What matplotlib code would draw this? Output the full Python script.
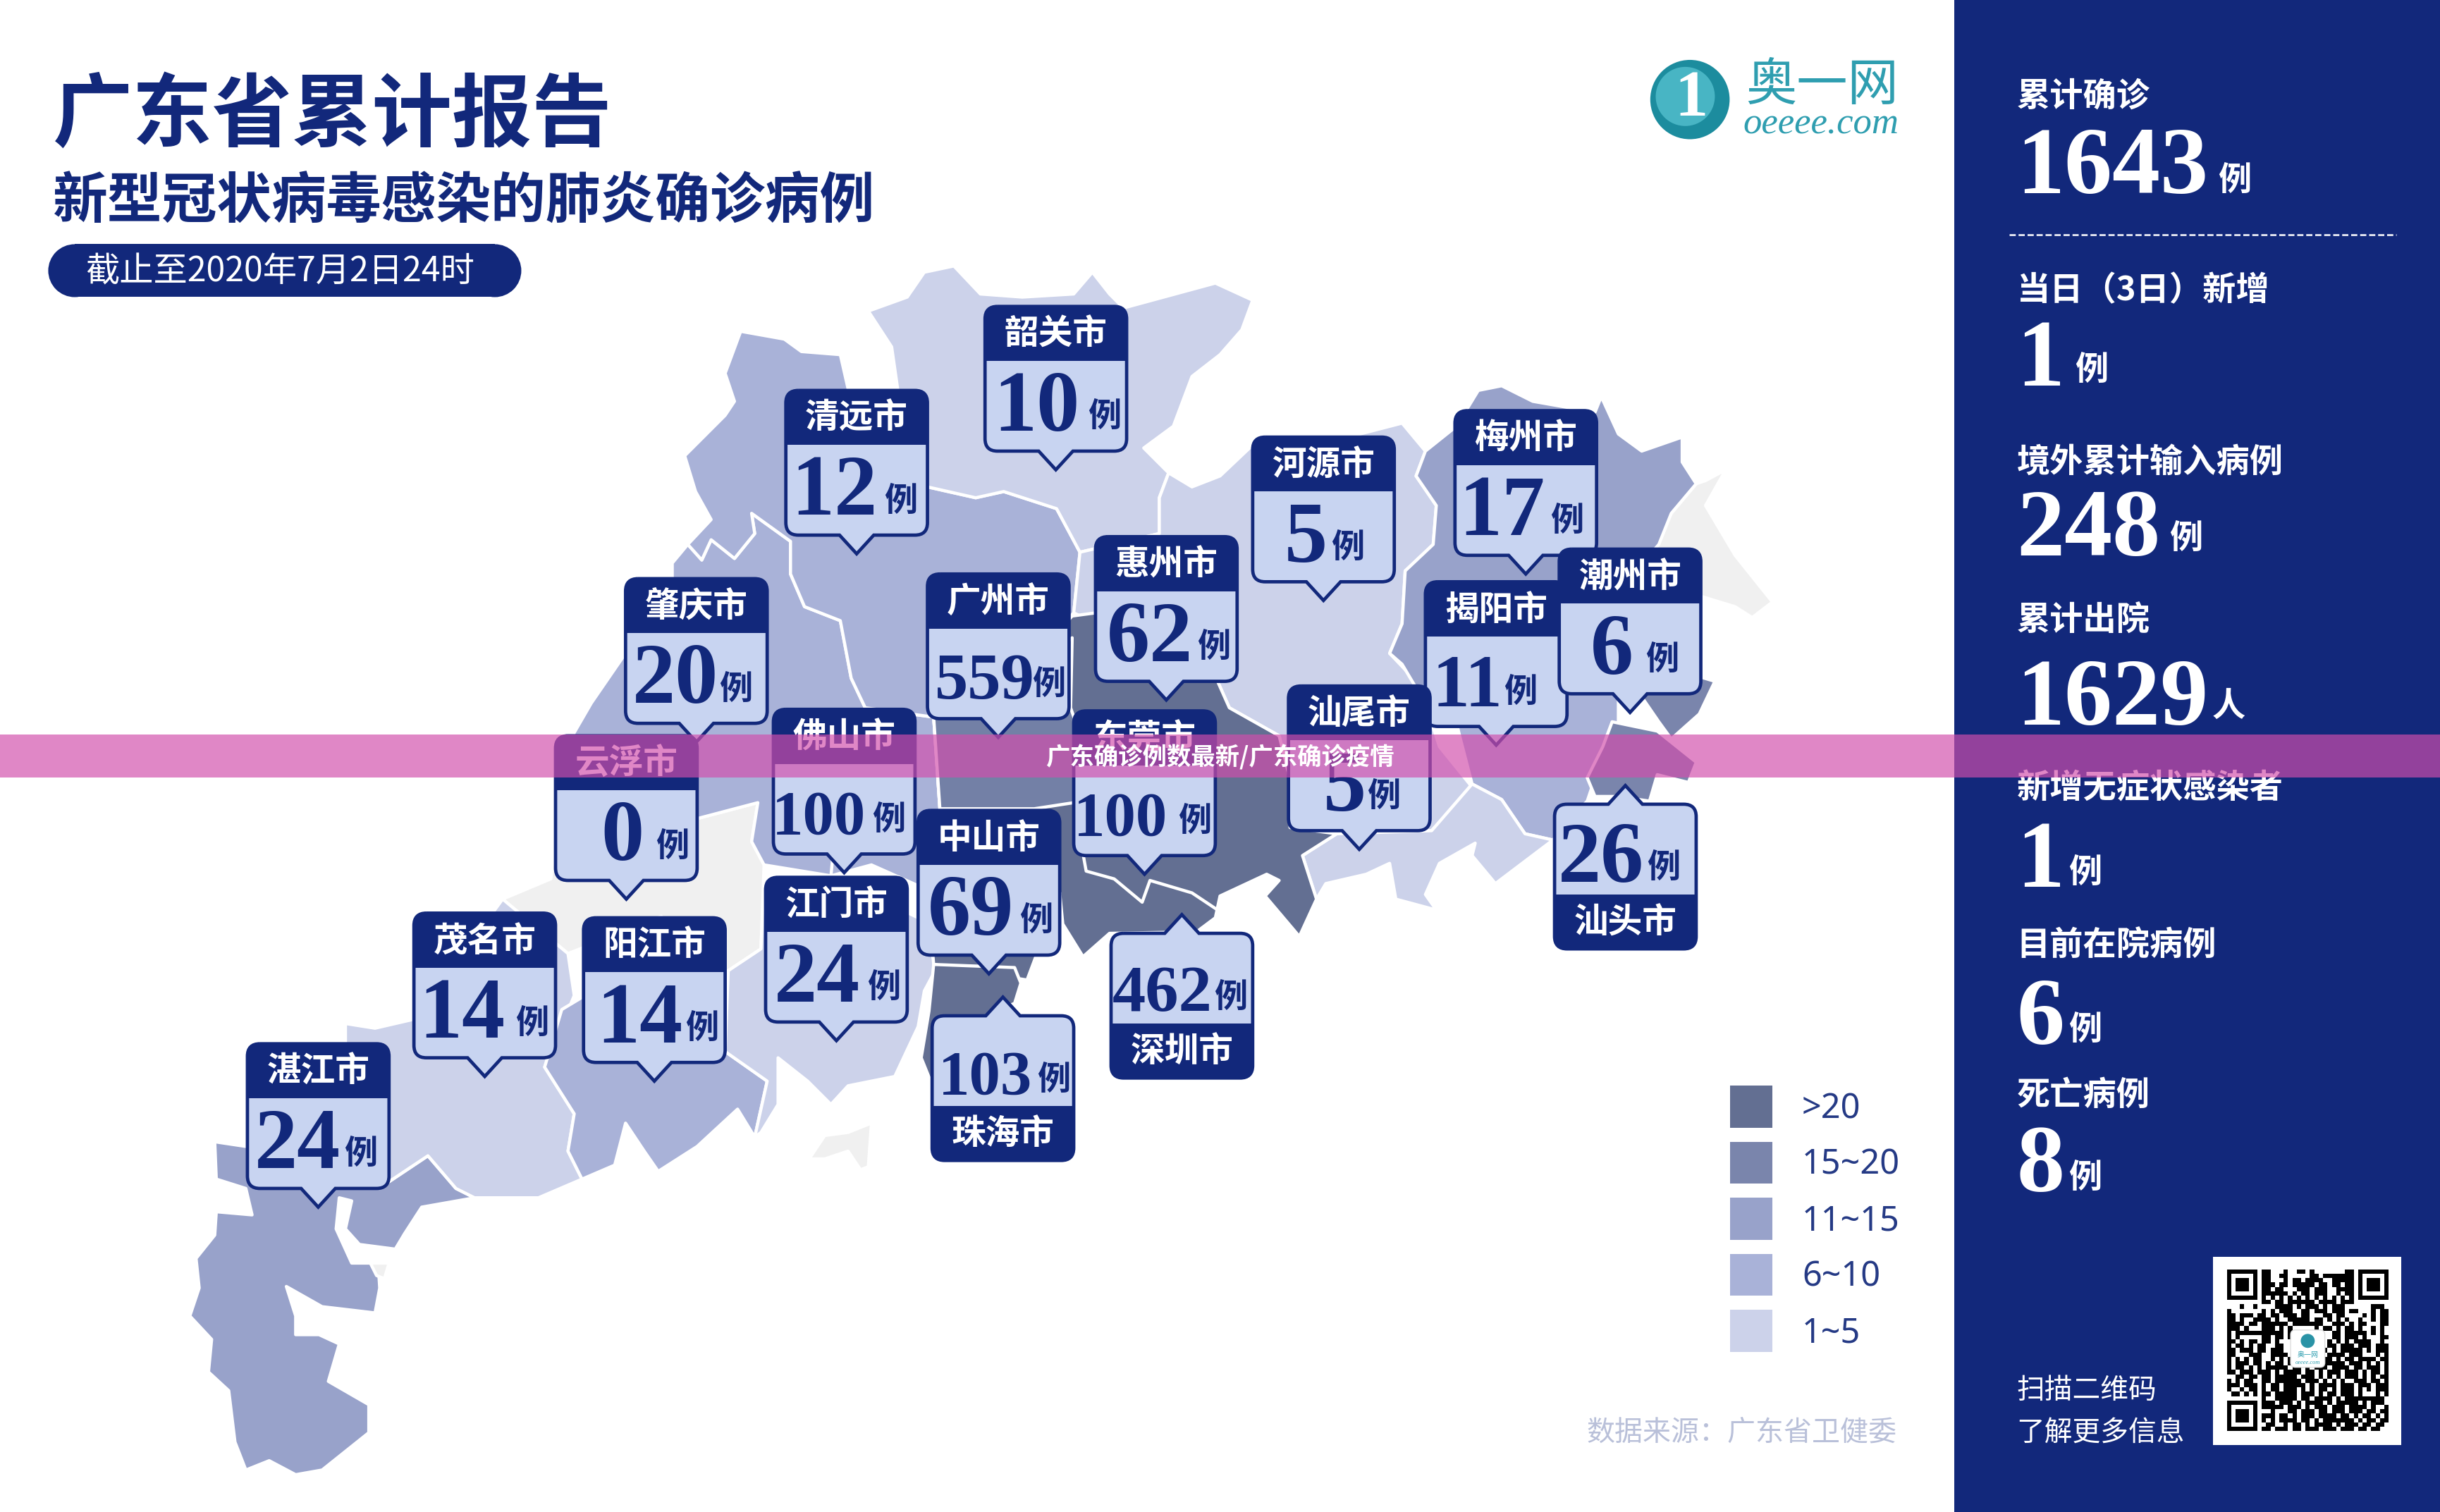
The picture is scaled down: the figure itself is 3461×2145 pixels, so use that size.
import matplotlib
matplotlib.use('Agg')
import matplotlib.pyplot as plt
from matplotlib.patches import PathPatch, Polygon, Rectangle, FancyBboxPatch, Circle
from matplotlib.path import Path

plt.rcParams['font.family'] = ['Noto Sans CJK SC', 'DejaVu Sans']

NAVY = '#12287B'
BODY = '#C8D4F1'
NUMFONT = 'Liberation Serif'
TEAL = '#2F9EB0'

c_top = '#636F92'
c_gz = '#7380A6'
c_15 = '#7A85AC'
c_11 = '#98A2CA'
c_6 = '#A9B2D8'
c_1 = '#CCD2EA'
c_0 = '#F0F0F0'

# map outlines
zhanjiang = [(138,734),(158,737),(160,710),(248,761),(275,743),(293,764),(305,770),(271,776),(260,793),(254,803),(231,800),(222,790),(226,772),(218,770),(216,790),(226,812),(243,812),(244,828),(241,844),(207,840),(184,827),(190,846),(190,858),(205,858),(218,864),(211,888),(237,903),(237,921),(207,945),(190,948),(173,939),(158,945),(151,927),(147,894),(134,882),(136,861),(122,846),(128,828),(126,809),(138,794),(139,779),(162,781),(158,764),(139,758)]
maoming = [(222,658),(241,661),(267,655),(323,578),(365,613),(369,640),(350,686),(369,716),(365,740),(374,758),(346,770),(305,770),(293,764),(275,743),(248,761),(230,720),(222,680)]
yunfu = [(323,578),(354,565),(361,500),(449,500),(449,526),(487,516),(483,541),(491,556),(489,610),(468,624),(440,640),(425,589),(398,600),(365,613)]
yangjiang = [(350,686),(361,649),(376,640),(468,624),(466,676),(493,695),(485,731),(474,713),(448,737),(423,753),(414,740),(402,722),(395,749),(374,758),(365,740),(369,716)]
jiangmen = [(468,624),(489,610),(491,565),(534,563),(590,590),(602,622),(594,637),(590,660),(575,692),(545,698),(534,710),(519,695),(500,680),(500,710),(489,728),(485,731),(493,695),(466,676)]
zhaoqing = [(442,350),(432,362),(432,400),(402,420),(380,452),(369,471),(360,500),(449,526),(487,516),(483,541),(491,556),(534,563),(560,556),(560,470),(556,455),(547,436),(540,399),(517,390),(508,369),(508,348),(483,330),(485,343),(472,359),(457,347),(451,360)]
foshan = [(556,455),(600,461),(604,520),(596,572),(560,556),(534,563),(540,500)]
qingyuan = [(476,213),(504,218),(515,226),(540,228),(545,250),(577,251),(596,313),(627,320),(645,316),(679,327),(694,355),(690,394),(640,450),(600,461),(556,455),(547,436),(540,399),(517,390),(508,369),(508,348),(483,330),(485,343),(472,359),(457,347),(451,360),(442,350),(457,334),(447,316),(440,293),(466,267),(472,258),(466,240)]
shaoguan = [(558,200),(583,191),(594,175),(613,171),(630,189),(657,191),(690,189),(702,175),(713,189),(722,198),(781,182),(805,193),(798,212),(784,228),(766,242),(754,274),(735,288),(751,304),(745,320),(745,343),(694,355),(679,327),(645,316),(627,320),(596,313),(577,251),(573,223)]
heyuan = [(751,304),(766,313),(784,306),(803,288),(830,280),(874,279),(901,272),(916,290),(910,306),(923,325),(921,350),(903,367),(901,401),(893,420),(912,440),(925,480),(946,506),(920,534),(859,536),(829,532),(829,501),(822,473),(790,455),(782,437),(690,394),(694,355),(745,343),(745,320)]
meizhou = [(950,251),(965,248),(985,258),(1025,265),(1029,255),(1040,279),(1055,290),(1081,281),(1081,297),(1090,311),(1074,330),(1066,350),(1040,380),(1040,440),(940,470),(920,459),(901,427),(893,420),(901,401),(903,367),(921,350),(923,325),(910,306),(916,290),(936,274)]
chaozhou_grey = [(1109,302),(1096,325),(1115,357),(1139,387),(1126,397),(1115,390),(1092,383),(1062,353),(1074,330),(1090,311),(1096,309)]
jieyang = [(930,440),(1040,440),(1040,465),(1025,500),(1020,515),(1005,530),(998,540),(980,536),(965,514),(946,504),(938,473)]
chaozhou = [(1055,430),(1092,435),(1102,438),(1092,459),(1074,475),(1066,464),(1055,448)]
shantou = [(1036,464),(1065,470),(1075,478),(1090,490),(1085,503),(1065,498),(1060,515),(1040,512),(1025,512),(1020,500),(1030,480)]
shanwei = [(837,550),(859,536),(920,534),(946,504),(965,514),(980,536),(998,540),(961,568),(946,550),(948,542),(925,555),(916,575),(923,585),(897,578),(893,555),(878,562),(852,568),(846,578)]
dark_core = [(600,461),(640,450),(689,396),(704,394),(782,437),(790,455),(822,473),(829,501),(829,532),(859,536),(837,550),(846,578),(835,602),(813,576),(822,566),(814,562),(784,576),(781,590),(769,599),(713,600),(696,615),(683,594),(681,574),(660,560),(604,520)]
guangzhou = [(600,461),(640,450),(689,410),(688,455),(695,475),(700,510),(690,516),(664,520),(623,520),(604,520)]
zhuhai = [(600,620),(652,622),(656,632),(652,645),(640,650),(600,700),(592,680),(597,650)]
zhongshan = [(604,520),(664,520),(681,574),(660,630),(600,620),(596,572)]
island = [(520,745),(530,730),(545,728),(560,722),(558,750),(553,752),(545,740),(530,745)]
island2 = [(238,812),(250,812),(247,822),(242,820)]

region_shapes = [chaozhou_grey, yunfu, zhanjiang, maoming, yangjiang, jiangmen, zhaoqing, foshan, qingyuan,
                 shaoguan, heyuan, meizhou, jieyang, chaozhou, shantou, shanwei, dark_core, guangzhou,
                 zhongshan, zhuhai, island, island2]
region_colors = [c_0, c_0, c_11, c_1, c_6, c_1, c_6, c_6, c_6,
                 c_1, c_1, c_11, c_6, c_15, c_15, c_1, c_top, c_gz,
                 c_top, c_top, c_0, c_0]
shenzhen_line = [(690,516),(698,560),(716,565),(734,580),(739,566),(766,574),(781,584)]

# callouts
city_names = ['韶关市','清远市','河源市','梅州市','揭阳市','潮州市','惠州市','广州市','肇庆市','云浮市','佛山市','东莞市','汕尾市','江门市','中山市','茂名市','阳江市','湛江市','汕头市','深圳市','珠海市']
city_counts = [10,12,5,17,11,6,62,559,20,0,100,100,5,24,69,14,14,24,26,462,103]
city_left = [633,505,805,935,916,1002,704,596,402,357,497,690,828,492,590,266,375,159,999,714,599]
city_top = [197,251,281,264,374,353,345,369,372,473,456,457,441,564,521,587,590,671,517,600,653]
city_flipped = [0]*18 + [1,1,1]
num_dx = [33,31,34,30,27,34,35,37,32,43,29,30,36,33,34,31,36,32,30,33,34]
unit_dx = [77,74,61,72,61,66,76,78,71,75,74,78,61,76,76,76,76,73,70,77,78]
num_fs = [44,44,44,44,38,44,44,34,44,44,32,32,44,44,44,44,44,44,44,34,32]

# right panel
panel_labels = ['累计确诊','当日（3日）新增','境外累计输入病例','累计出院','新增无症状感染者','目前在院病例','死亡病例']
panel_values = ['1643','1','248','1629','1','6','8']
panel_units = ['例','例','例','人','例','例','例']
panel_label_y = [60,185,295,397,505,606,702]
panel_value_y = [124,248,357,466,570,671,766]
panel_unit_x = [1436,1344,1405,1432,1340,1340,1340]
panel_unit_y = [115,237,345,453,560,661,756]

legend_labels = ['>20','15~20','11~15','6~10','1~5']
legend_colors = [c_top, c_15, c_11, c_6, c_1]
legend_top = [698,734,770,806,842]

qr_rows = [
"#######.##...#..##.#.......##.#######",
"#.....#.##..##.....##.#######.#.....#",
"#.###.#.##...#.##.####..#####.#.###.#",
"#.###.#.###.##.#####.##.##.##.#.###.#",
"#.###.#.##.##...###.###..####.#.###.#",
"#.....#.######.#.##.###..#.##.#.....#",
"#######.#.#.#.#.#.#.#.#.#.#.#.#######",
"........##.##.######.####.###........",
"...#..#....####.#.###.#.###......###.",
"#.......#.#.###..##.###.###.##...#.##",
"##.###.##.##.###.##...##.##....#.#.##",
"##.#..####.#..#####.##.#.#.#..#..#.##",
"####.##.######.#######..###.#.##...##",
"###.#...###.#.#.....#.##.#.##.#..#.#.",
"#.###########.##........##.#####.#.#.",
"#.#.....##.##.#.........##.###.#...##",
"##.#.##.##.#...........#.#.#.####..#.",
"#.##.#.##..##..........##.###.###.###",
"##.###.##.###.........#.#.#####.#.###",
"##...###..####.........####.###...#.#",
"#.#.#.##..#.#.#.......##.#.##.####.##",
"#.###.##.#.##.##......#####.###.#.#.#",
"#.##.#.#.#####.##.#.###.####.##.###.#",
"##.###.###.#.####.##.#.###.###.#.##.#",
"..##.##.##.#####.###.#.#.#.###.#.#.##",
"#.#.##..##.######.###.#.#.#..###.##.#",
"###.###.#.##.#####.#.####.###.###.###",
"#..#.##.#.##.###.#.#.##.#.###.#.#.###",
".##.#.#.##.#####.###.#.##.###.#...#.#",
"........#..#####.##.####.#.#########.",
"#######.###.###.#.####.#.#####.#.###.",
"#.....#.#####.###.#.###.###.####.#..#",
"#.###.#...#...##.###.##.###.###.##.##",
"#.###.#.###.##.#.###.####.##.#.##.#.#",
"#.###.#.#.#.####.##.#.#######.#.##.##",
"#.....#..##..#.##.#.####.#.###.##.##.",
"#######.##.###.##.###.###.###.##.##..",
]

fig = plt.figure(figsize=(3461/200, 2145/200), dpi=200)
ax = fig.add_axes([0, 0, 1, 1])
ax.set_xlim(0, 1568)
ax.set_ylim(972, 0)
ax.axis('off')

for shape, col in zip(region_shapes, region_colors):
    ax.add_patch(Polygon(shape, closed=True, facecolor=col, edgecolor='white', lw=1.6, joinstyle='round', zorder=2))
ax.plot(*zip(*shenzhen_line), color='white', lw=1.6, zorder=3)


def callout_path(x, y, w, h, flipped, r=8, pw=11, ph=12):
    cx = x + w / 2
    bot = y + h
    verts = [(x + r, y)]
    codes = [Path.MOVETO]
    if flipped:
        verts += [(cx - pw, y), (cx, y - ph), (cx + pw, y)]
        codes += [Path.LINETO] * 3
    verts += [(x + w - r, y), (x + w, y), (x + w, y + r), (x + w, bot - r), (x + w, bot), (x + w - r, bot)]
    codes += [Path.LINETO, Path.CURVE3, Path.CURVE3, Path.LINETO, Path.CURVE3, Path.CURVE3]
    if not flipped:
        verts += [(cx + pw, bot), (cx, bot + ph), (cx - pw, bot)]
        codes += [Path.LINETO] * 3
    verts += [(x + r, bot), (x, bot), (x, bot - r), (x, y + r), (x, y), (x + r, y)]
    codes += [Path.LINETO, Path.CURVE3, Path.CURVE3, Path.LINETO, Path.CURVE3, Path.CURVE3]
    return Path(verts, codes)


w, h = 91, 93
hdr = 35
z = 5
for i, name in enumerate(city_names):
    x, y, fl = city_left[i], city_top[i], city_flipped[i]
    z += 1
    box = PathPatch(callout_path(x, y, w, h, fl), facecolor=BODY, edgecolor=NAVY, lw=1.7, zorder=z)
    ax.add_patch(box)
    hy = y + h - hdr if fl else y
    band = Rectangle((x - 2, hy), w + 4, hdr, facecolor=NAVY, edgecolor='none', zorder=z)
    ax.add_patch(band)
    band.set_clip_path(box)
    ax.text(x + w / 2, hy + hdr / 2 + 0.5, name, color='white', fontsize=17.5, fontweight='bold',
            ha='center', va='center', zorder=z)
    base = y + 50 if fl else y + 80
    ax.text(x + num_dx[i], base, str(city_counts[i]), color=NAVY, fontsize=num_fs[i], fontweight='bold',
            family=NUMFONT, ha='center', va='baseline', zorder=z)
    ax.text(x + unit_dx[i], base - 9, '例', color=NAVY, fontsize=17, fontweight='bold',
            ha='center', va='center', zorder=z)

# header
ax.text(34, 75, '广东省累计报告', color=NAVY, fontsize=40.8, fontweight='black', ha='left', va='center')
ax.text(34, 130, '新型冠状病毒感染的肺炎确诊病例', color=NAVY, fontsize=28, fontweight='bold', ha='left', va='center')
ax.add_patch(Rectangle((48, 157), 270, 34, facecolor=NAVY, edgecolor='none'))
ax.add_patch(Circle((48, 174), 17, facecolor=NAVY, edgecolor='none'))
ax.add_patch(Circle((318, 174), 17, facecolor=NAVY, edgecolor='none'))
ax.text(180, 175, '截止至2020年7月2日24时', color='white', fontsize=17.4, ha='center', va='center', zorder=3)

# logo
ax.add_patch(Circle((1086, 64), 25.5, facecolor='#1C8C9E', edgecolor='none'))
ax.add_patch(Circle((1083, 62), 19, facecolor='#48B5C4', edgecolor='none'))
ax.text(1087, 64, '1', color='white', fontsize=34, fontweight='bold', family=NUMFONT, ha='center', va='center')
ax.text(1171, 55, '奥一网', color=TEAL, fontsize=26, ha='center', va='center')
ax.text(1170, 80, 'oeeee.com', color=TEAL, fontsize=19, style='italic', family=NUMFONT, ha='center', va='center')

# legend
for col, label, top in zip(legend_colors, legend_labels, legend_top):
    ax.add_patch(Rectangle((1112, top), 27, 27, facecolor=col, edgecolor='none'))
    ax.text(1158, top + 15, label, color='#253A85', fontsize=17.5, family='Noto Sans', ha='left', va='center')
ax.text(1219, 921, '数据来源：广东省卫健委', color='#B9C0D9', fontsize=14.4, ha='right', va='center')

# right panel
ax.add_patch(Rectangle((1256, 0), 312, 972, facecolor=NAVY, edgecolor='none', zorder=2))
for lab, val, unit, ly, vy, ux, uy in zip(panel_labels, panel_values, panel_units, panel_label_y,
                                           panel_value_y, panel_unit_x, panel_unit_y):
    ax.text(1296, ly + 2, lab, color='white', fontsize=17, fontweight='bold', ha='left', va='center', zorder=3)
    ax.text(1296, vy, val, color='white', fontsize=49, fontweight='bold', family=NUMFONT, ha='left',
            va='baseline', zorder=3)
    ax.text(ux, uy + 1, unit, color='white', fontsize=17, fontweight='bold', ha='center', va='center', zorder=3)
ax.plot([1291, 1540], [151, 151], color='white', lw=0.9, dashes=(3.5, 1.6), zorder=3)
ax.text(1296, 894, '扫描二维码', color='white', fontsize=14.3, ha='left', va='center', zorder=3)
ax.text(1296, 921, '了解更多信息', color='white', fontsize=14.3, ha='left', va='center', zorder=3)

# qr code
ax.add_patch(Rectangle((1422, 808), 121, 121, facecolor='white', edgecolor='none', zorder=3))
qr_x, qr_y, cell = 1431, 816, 104 / 37
for r, row in enumerate(qr_rows):
    for c, ch in enumerate(row):
        if ch == '#':
            ax.add_patch(Rectangle((qr_x + c * cell, qr_y + r * cell), cell, cell, facecolor='black',
                                   edgecolor='none', zorder=4))
ax.add_patch(FancyBboxPatch((1472, 855), 22, 24, boxstyle='round,pad=0,rounding_size=3', facecolor='white',
                            edgecolor='#DDDDDD', lw=0.5, zorder=5))
ax.add_patch(Circle((1483, 862), 4.5, facecolor='#2A93A6', edgecolor='none', zorder=6))
ax.text(1483, 871, '奥一网', color=TEAL, fontsize=3.6, ha='center', va='center', zorder=6)
ax.text(1483, 876, 'oeeee.com', color=TEAL, fontsize=3, style='italic', family=NUMFONT, ha='center', va='center', zorder=6)

# banner across the picture
ax.add_patch(Rectangle((0, 472), 1568, 28, facecolor='#D24EAC', alpha=0.68, edgecolor='none', zorder=50))
ax.text(784, 487, '广东确诊例数最新/广东确诊疫情', color='white', fontsize=12.4, fontweight='bold',
        ha='center', va='center', zorder=51)

fig.savefig('out.png', dpi=200, facecolor='white')
